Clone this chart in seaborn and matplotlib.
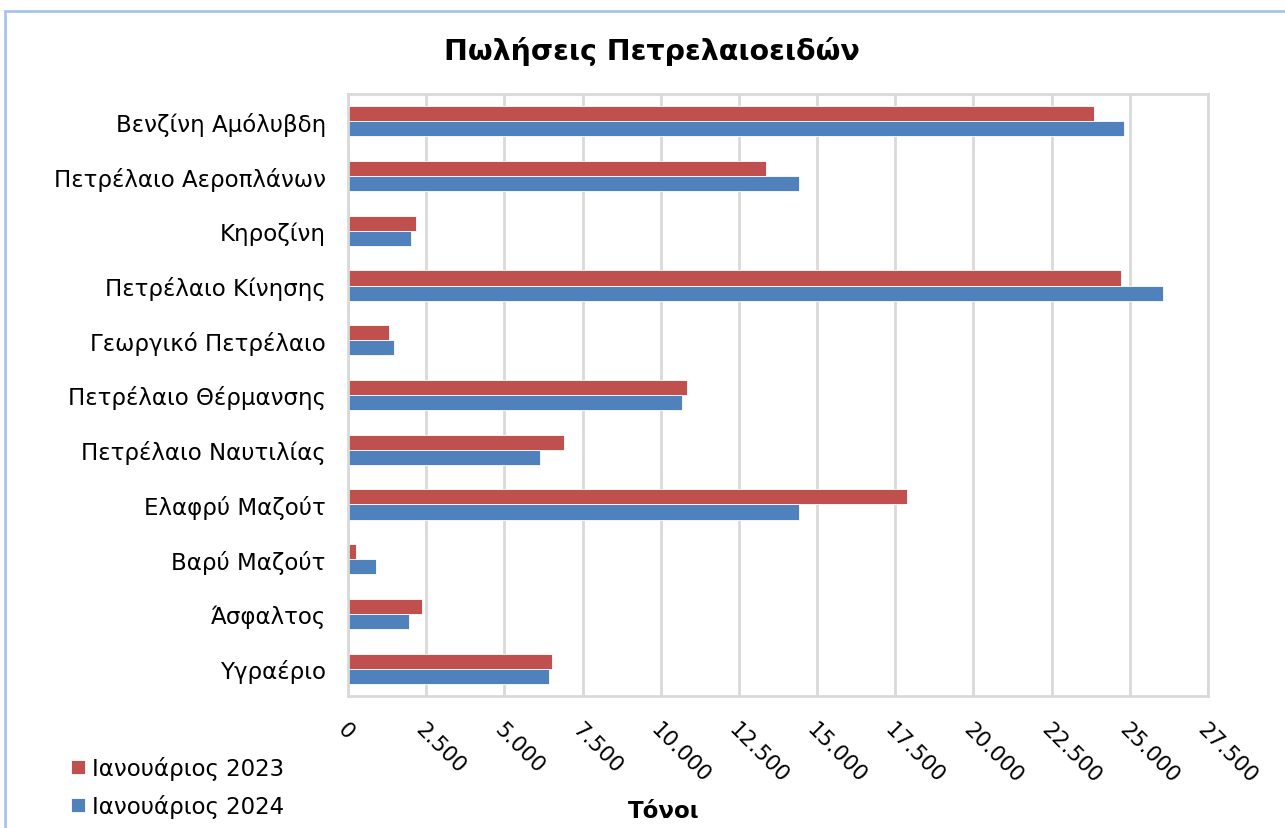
import pandas as pd
import seaborn as sns
import matplotlib.pyplot as plt
from matplotlib.ticker import FuncFormatter, MultipleLocator
from matplotlib.patches import Rectangle

# Sales by product (tonnes)
products = ['Βενζίνη Αμόλυβδη', 'Πετρέλαιο Αεροπλάνων', 'Κηροζίνη', 'Πετρέλαιο Κίνησης',
            'Γεωργικό Πετρέλαιο', 'Πετρέλαιο Θέρμανσης', 'Πετρέλαιο Ναυτιλίας',
            'Ελαφρύ Μαζούτ', 'Βαρύ Μαζούτ', 'Άσφαλτος', 'Υγραέριο']
jan_2023 = [23870, 13380, 2160, 24710, 1300, 10850, 6910, 17880, 240, 2365, 6510]
jan_2024 = [24800, 14410, 2000, 26070, 1470, 10670, 6140, 14410, 900, 1960, 6420]
series = ['Ιανουάριος 2023', 'Ιανουάριος 2024']
colors = ['#C0504D', '#4F81BD']

df = pd.DataFrame({
    'Προϊόν': products * 2,
    'Τόνοι': jan_2023 + jan_2024,
    'Περίοδος': [series[0]] * len(products) + [series[1]] * len(products),
})

sns.set_style('white')
plt.rcParams['font.family'] = ['DejaVu Sans']
plt.rcParams['text.color'] = 'black'
plt.rcParams['xtick.color'] = 'black'
plt.rcParams['ytick.color'] = 'black'
plt.rcParams['axes.labelcolor'] = 'black'

fig = plt.figure(figsize=(12.85, 8.29), dpi=100)
ax = fig.add_axes([348 / 1285, 1 - 697 / 829, 860 / 1285, 602 / 829])

sns.barplot(data=df, y='Προϊόν', x='Τόνοι', hue='Περίοδος', hue_order=series,
            palette=colors, orient='h', width=0.55, saturation=1, ax=ax,
            edgecolor='white', linewidth=0.6)

ax.set_xlim(0, 27500)
ax.set_ylim(len(products) - 0.5, -0.5)
ax.xaxis.set_major_locator(MultipleLocator(2500))
ax.xaxis.set_major_formatter(FuncFormatter(lambda v, p: f'{v:,.0f}'.replace(',', '.')))
ax.grid(axis='x', color='#D9D9D9', linewidth=2)
ax.set_axisbelow(True)
for s in ax.spines.values():
    s.set_color('#D9D9D9')
    s.set_linewidth(2)

ax.tick_params(axis='y', length=0, pad=16, labelsize=16.5)
ax.tick_params(axis='x', length=0, pad=16, labelsize=15.5)
for lab in ax.get_xticklabels():
    lab.set_rotation(-45)
    lab.set_ha('left')
    lab.set_va('top')
    lab.set_rotation_mode('anchor')

ax.set_ylabel('')
ax.set_xlabel('Τόνοι', fontsize=16.5, fontweight='bold')
ax.xaxis.set_label_coords((664 - 348) / 860, -(800 - 697) / 602)

ax.get_legend().remove()
handles, labels = ax.get_legend_handles_labels()
fig.legend(handles, labels, loc='upper left', bbox_to_anchor=(62 / 1285, 1 - 748 / 829),
           frameon=False, fontsize=16.5, handlelength=0.6, handleheight=0.6,
           handletextpad=0.3, labelspacing=0.6, borderaxespad=0)

fig.text(652 / 1285, 1 - 51 / 829, 'Πωλήσεις Πετρελαιοειδών', ha='center', va='center',
         fontsize=20.5, fontweight='bold')

fig.patches.append(Rectangle((5 / 1285, -0.1), 1.2, 1 - 12 / 829 + 0.1,
                             transform=fig.transFigure, fill=False,
                             edgecolor='#A9C4EA', linewidth=2))

fig.savefig('out.png', dpi=100)
